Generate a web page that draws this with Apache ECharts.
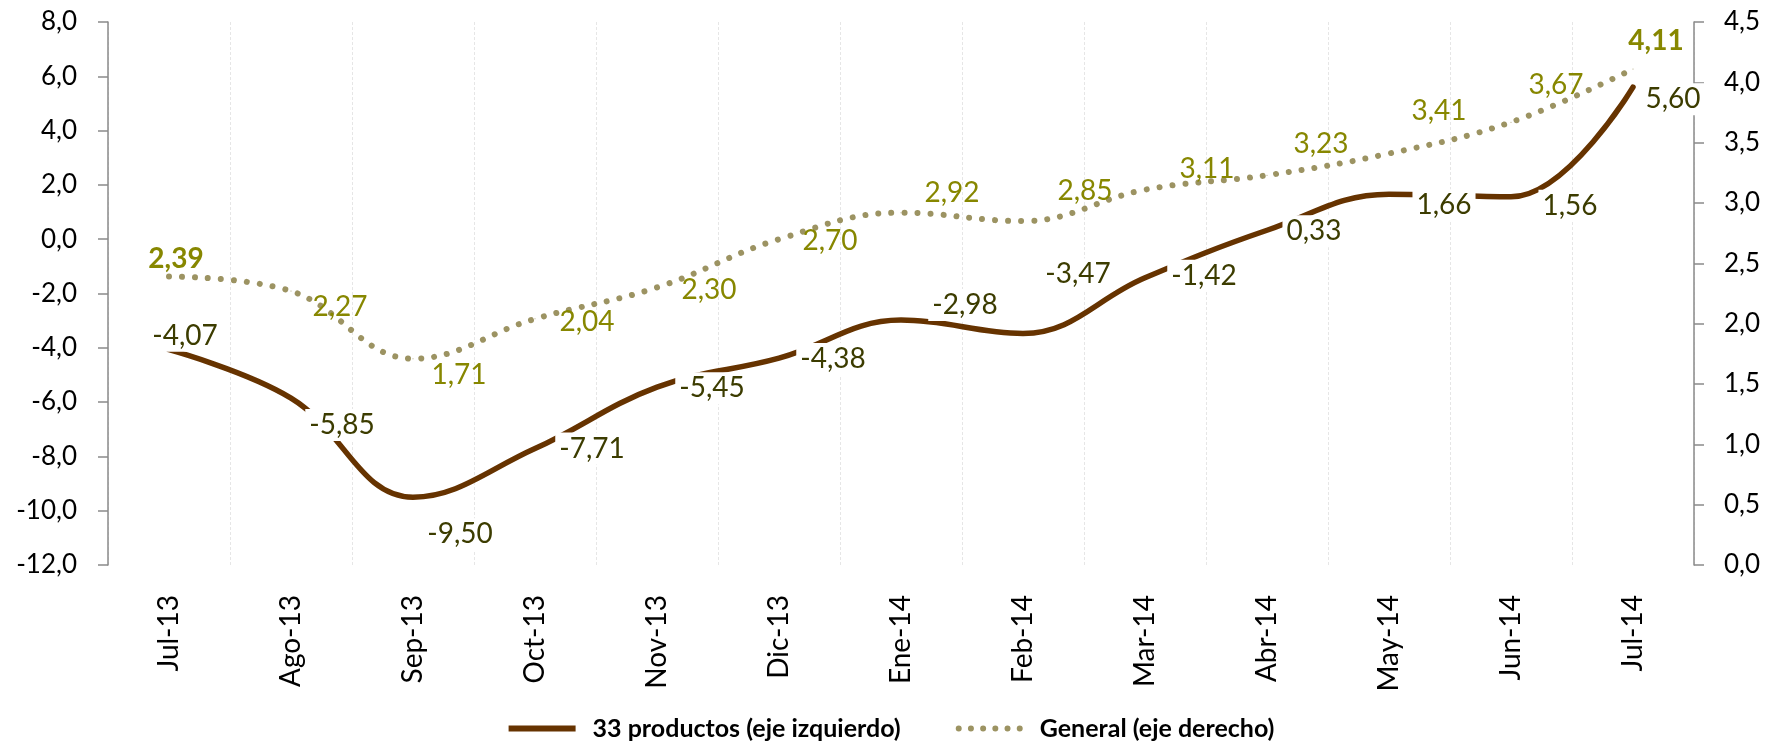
<!DOCTYPE html>
<html><head><meta charset="utf-8">
<script src="https://cdn.jsdelivr.net/npm/echarts@6/dist/echarts.min.js"></script>
<style>html,body{margin:0;padding:0;background:#fff}#c{width:1783px;height:746px}</style>
</head><body><div id="c"></div>
<script>
const categories = ['Jul-13','Ago-13','Sep-13','Oct-13','Nov-13','Dic-13','Ene-14','Feb-14','Mar-14','Abr-14','May-14','Jun-14','Jul-14'];
const productos33 = [-4.07,-5.85,-9.50,-7.71,-5.45,-4.38,-2.98,-3.47,-1.42,0.33,1.66,1.56,5.60];
const general = [2.39,2.27,1.71,2.04,2.30,2.70,2.92,2.85,3.11,3.23,3.41,3.67,4.11];
const leftTicks = {min:-12, max:8, interval:2};
const rightTicks = {min:0, max:4.5, interval:0.5};

// label placement (style only): offset of each label's centre from its point, in px
const offsB = [[16,-14],[51,27],[47,37],[57,0],[55,1],[54,1],[64,-15],[55,-59],[59,-2],[47,1],[55,11],[59,9],[40,12]];
const offsG = [[7,-18],[49,16],[46,16],[52,3],[52,3],[51,2],[51,-20],[62,-30],[62,-21],[54,-31],[50,-43],[45,-37],[23,-28]];

const FONT = 'Lato';
const fmt = v => v.toFixed(2).replace('.', ',');
const fmt1 = v => v.toFixed(1).replace('.', ',');

// legend icons
const dotIcon = (() => { let p = 'path://'; for (let k = 0; k < 6; k++) { const cx = 3 + 12.2 * k; p += `M${cx-3},3a3,3 0 1,0 6,0a3,3 0 1,0 -6,0`; } return p + 'M0,0M67,6'; })();

const chart = echarts.init(document.getElementById('c'), null, {renderer:'canvas'});
chart.setOption({
  animation:false,
  textStyle:{fontFamily:FONT},
  grid:{left:108, right:89, top:22, bottom:181, containLabel:false},
  legend:{
    bottom:0, left:'center', itemWidth:67, itemHeight:6, itemGap:55,
    textStyle:{fontFamily:FONT, fontWeight:'bold', fontSize:25, color:'#000', padding:[0,0,0,12]},
    data:[
      {name:'33 productos (eje izquierdo)', icon:'rect', itemStyle:{color:'#663300'}},
      {name:'General (eje derecho)', icon:dotIcon, itemStyle:{color:'#9c9362'}}
    ]
  },
  xAxis:{
    type:'category', data:categories, boundaryGap:true,
    axisLine:{show:false}, axisTick:{show:false},
    axisLabel:{rotate:90, margin:30, fontSize:28, color:'#000', fontFamily:FONT},
    splitLine:{show:true, lineStyle:{color:'#e6e6e6', width:1, type:[3,2]}}
  },
  yAxis:[
    {type:'value', position:'left', min:leftTicks.min, max:leftTicks.max, interval:leftTicks.interval,
     axisLine:{show:true, lineStyle:{color:'#8a8a8a', width:1.5}},
     axisTick:{show:true, inside:false, length:10, lineStyle:{color:'#8a8a8a', width:1.5}},
     axisLabel:{margin:31, fontSize:26, color:'#000', fontFamily:FONT, formatter:fmt1},
     splitLine:{show:false}},
    {type:'value', position:'right', min:rightTicks.min, max:rightTicks.max, interval:rightTicks.interval,
     axisLine:{show:true, lineStyle:{color:'#8a8a8a', width:1.5}},
     axisTick:{show:true, inside:false, length:10, lineStyle:{color:'#8a8a8a', width:1.5}},
     axisLabel:{margin:30, fontSize:26, color:'#000', fontFamily:FONT, formatter:fmt1},
     splitLine:{show:false}}
  ],
  series:[
    {
      name:'General (eje derecho)', type:'line', yAxisIndex:1, smooth:0.4, symbol:'circle', symbolSize:1, showSymbol:true, z:2,
      lineStyle:{color:'#9c9362', width:6, type:[0.01,13], cap:'round'},
      itemStyle:{color:'#9c9362'},
      data: general.map((v,i)=>({value:v, label:{offset:offsG[i], fontWeight:(i===0||i===general.length-1)?'bold':'normal'}})),
      label:{show:true, position:'inside', fontSize:28, color:'#878700', fontFamily:FONT, formatter:p=>fmt(p.value)}
    },
    {
      name:'33 productos (eje izquierdo)', type:'line', yAxisIndex:0, smooth:0.4, symbol:'circle', symbolSize:1, showSymbol:true, z:3,
      lineStyle:{color:'#663300', width:5.5, cap:'round'},
      itemStyle:{color:'#663300'},
      data: productos33.map((v,i)=>({value:v, label:{offset:offsB[i]}})),
      label:{show:true, position:'inside', fontSize:28, color:'#3c3c00', fontFamily:FONT,
             backgroundColor:'#fff', padding:[2,4], formatter:p=>fmt(p.value)}
    }
  ]
});
</script></body></html>
